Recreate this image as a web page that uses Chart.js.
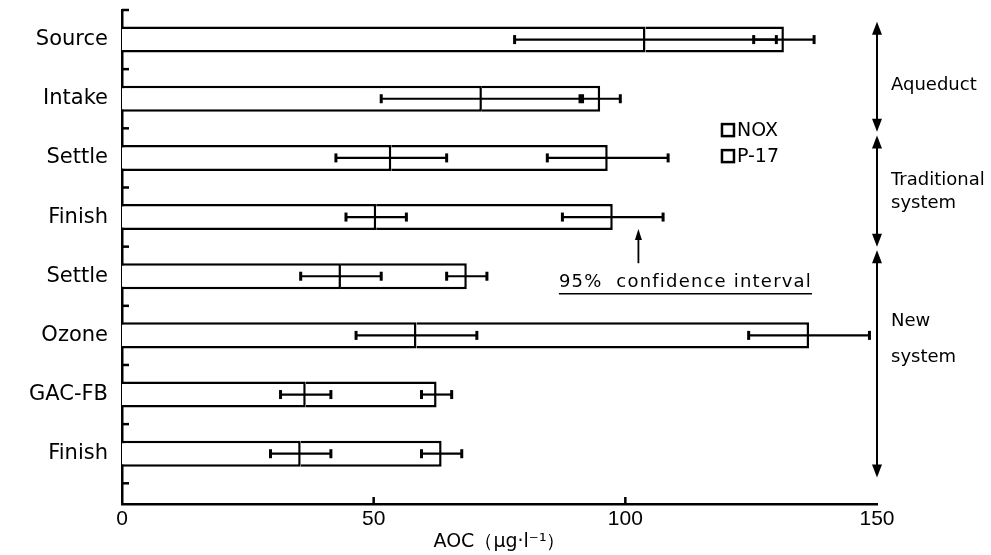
<!DOCTYPE html>
<html>
<head>
<meta charset="utf-8">
<script src="https://cdn.jsdelivr.net/npm/chart.js@4.4.1/dist/chart.umd.min.js"></script>
<style>
  html, body { margin: 0; padding: 0; background: #fff; }
  #wrap { width: 991px; height: 555px; position: relative; }
</style>
</head>
<body>
<div id="wrap"><canvas id="c"></canvas></div>
<script>
// ---------------- data ----------------
const categories = ['Source', 'Intake', 'Settle', 'Finish', 'Settle', 'Ozone', 'GAC-FB', 'Finish'];
const noxValues  = [104, 71.5, 53.5, 50.5, 43.5, 58.5, 36.5, 35.5];   // NOX segment
const p17Values  = [27.5, 23.5, 43, 47, 25, 78, 26, 28];             // P-17 segment (stacked)
const noxCI      = [26, 20, 11, 6, 8, 12, 5, 6];                      // 95% CI half-width of NOX
const aocCI      = [6, 4, 12, 10, 4, 12, 3, 4];                       // 95% CI half-width of total AOC
const xTicks     = [0, 50, 100, 150];
const seriesNames = ['NOX', 'P-17'];
const groupNames = [['Aqueduct'], ['Traditional', 'system'], ['New', 'system']];
const groupRanges = [[-0.3, 1.56], [1.62, 3.5], [3.56, 7.4]];          // in category-index units
const xTitle = 'AOC（μg·l⁻¹）';
const ciNote = '95%  confidence interval';

// ---------------- styling ----------------
const INK = '#000';
const SANS = '"DejaVu Sans", "Liberation Sans", sans-serif';
const NARROW = '"Liberation Sans", Arial, sans-serif';

function seg(ctx, x1, y1, x2, y2) { ctx.beginPath(); ctx.moveTo(x1, y1); ctx.lineTo(x2, y2); ctx.stroke(); }
function head(ctx, x, y, dir, w, h) {
  ctx.beginPath(); ctx.moveTo(x, y); ctx.lineTo(x - w / 2, y - dir * h); ctx.lineTo(x + w / 2, y - dir * h); ctx.closePath(); ctx.fill();
}

const whiteBg = {
  id: 'whiteBg',
  beforeDraw(chart) { const c = chart.ctx; c.save(); c.fillStyle = '#fff'; c.fillRect(0, 0, chart.width, chart.height); c.restore(); }
};

const decorations = {
  id: 'decorations',
  afterDatasetsDraw(chart) {
    const ctx = chart.ctx, xs = chart.scales.x, ys = chart.scales.y, area = chart.chartArea;
    ctx.save();
    ctx.strokeStyle = INK; ctx.fillStyle = INK; ctx.lineCap = 'butt';

    // inward tick marks on the category axis (category boundaries)
    ctx.lineWidth = 2.5;
    for (let v = -0.5; v <= categories.length - 0.5; v += 1) {
      const yy = ys.getPixelForValue(v);
      seg(ctx, area.left, yy, area.left + 7, yy);
    }
    // inward tick marks on the value axis
    xTicks.slice(1, -1).forEach(v => {
      const xx = xs.getPixelForValue(v);
      seg(ctx, xx, area.bottom, xx, area.bottom - 7);
    });

    // error bars
    categories.forEach((_, i) => {
      const yc = ys.getPixelForValue(i);
      const total = noxValues[i] + p17Values[i];
      [[noxValues[i], noxCI[i]], [total, aocCI[i]]].forEach(([c, e]) => {
        const x1 = xs.getPixelForValue(c - e), x2 = xs.getPixelForValue(c + e);
        ctx.lineWidth = 2.2; seg(ctx, x1, yc, x2, yc);
        ctx.lineWidth = 3; seg(ctx, x1, yc - 4.5, x1, yc + 4.5); seg(ctx, x2, yc - 4.5, x2, yc + 4.5);
      });
    });

    // group arrows on the right
    const ax = xs.getPixelForValue(xTicks[xTicks.length - 1]);
    ctx.lineWidth = 2;
    const labelAt = [0.78, 2.57, 5.07];
    groupRanges.forEach(([a, b], gi) => {
      const y1 = ys.getPixelForValue(a), y2 = ys.getPixelForValue(b);
      seg(ctx, ax, y1 + 6, ax, y2 - 6);
      head(ctx, ax, y1, -1, 10, 13);
      head(ctx, ax, y2, 1, 10, 13);
      ctx.font = '18px ' + SANS; ctx.textBaseline = 'middle'; ctx.textAlign = 'left';
      const lines = groupNames[gi];
      const yc = ys.getPixelForValue(labelAt[gi]);
      const step = lines.length > 1 ? (gi === 2 ? 36 : 23) : 0;
      lines.forEach((t, k) => ctx.fillText(t, ax + 14, yc + (k - (lines.length - 1) / 2) * step));
    });

    // legend
    const lx = xs.getPixelForValue(119.2), ly = ys.getPixelForValue(1.53);
    chart.data.datasets.forEach((ds, k) => {
      const yy = ly + k * 26;
      ctx.lineWidth = 2.5; ctx.strokeRect(lx, yy - 6, 12, 12);
      ctx.font = '19px ' + SANS; ctx.textBaseline = 'middle'; ctx.textAlign = 'left';
      ctx.fillText(ds.label, lx + 15, yy + 1);
    });

    // confidence interval note
    const nx = xs.getPixelForValue(86.8), ny = ys.getPixelForValue(4.11);
    ctx.font = '18px ' + SANS; ctx.textBaseline = 'middle'; ctx.textAlign = 'left';
    try { ctx.letterSpacing = '1.2px'; } catch (e) {}
    ctx.fillText(ciNote, nx, ny);
    const w = ctx.measureText(ciNote).width;
    try { ctx.letterSpacing = '0px'; } catch (e) {}
    ctx.lineWidth = 1.5; seg(ctx, nx, ny + 11, nx + w, ny + 11);
    const arx = xs.getPixelForValue(102.6);
    const tip = ys.getPixelForValue(3.2), tail = ys.getPixelForValue(3.78);
    ctx.lineWidth = 1.8; seg(ctx, arx, tail, arx, tip + 8);
    head(ctx, arx, tip, -1, 7, 11);

    ctx.restore();
  }
};

new Chart(document.getElementById('c'), {
  type: 'bar',
  data: {
    datasets: [
      { label: seriesNames[0], data: noxValues.map((v, i) => ({ x: v, y: i })),
        backgroundColor: '#fff', borderColor: INK, borderWidth: 2.5 },
      { label: seriesNames[1], data: p17Values.map((v, i) => ({ x: v, y: i })),
        backgroundColor: '#fff', borderColor: INK, borderWidth: 2.5 }
    ]
  },
  options: {
    indexAxis: 'y',
    responsive: true,
    maintainAspectRatio: false,
    animation: false,
    devicePixelRatio: 1,
    barPercentage: 0.44,
    categoryPercentage: 1,
    layout: { padding: { top: 10, right: 114, bottom: 0, left: 0 } },
    plugins: { legend: { display: false }, tooltip: { enabled: false } },
    scales: {
      y: {
        type: 'linear', reverse: true, min: -0.5, max: 7.85, stacked: true, offset: false,
        afterBuildTicks: s => { s.ticks = categories.map((_, i) => ({ value: i })); },
        ticks: { autoSkip: false, callback: v => categories[v], color: INK, padding: 14,
                 font: { family: SANS, size: 21 } },
        grid: { display: false, drawTicks: false },
        border: { display: true, color: INK, width: 2.5 },
        afterFit: s => { s.width = 122; s.paddingTop = 0; s.paddingBottom = 0; }
      },
      x: {
        type: 'linear', min: 0, max: 150, stacked: true,
        afterBuildTicks: s => { s.ticks = xTicks.map(v => ({ value: v })); },
        ticks: { autoSkip: false, maxRotation: 0, color: INK, padding: 3,
                 font: { family: NARROW, size: 21 } },
        grid: { display: false, drawTicks: false },
        border: { display: true, color: INK, width: 2.5 },
        title: { display: true, text: xTitle, color: INK, padding: { top: 0, bottom: 2 },
                 font: { family: SANS, size: 19 } },
        afterFit: s => { s.height = 51; s.paddingLeft = 0; s.paddingRight = 0; }
      }
    }
  },
  plugins: [whiteBg, decorations]
});
</script>
</body>
</html>
